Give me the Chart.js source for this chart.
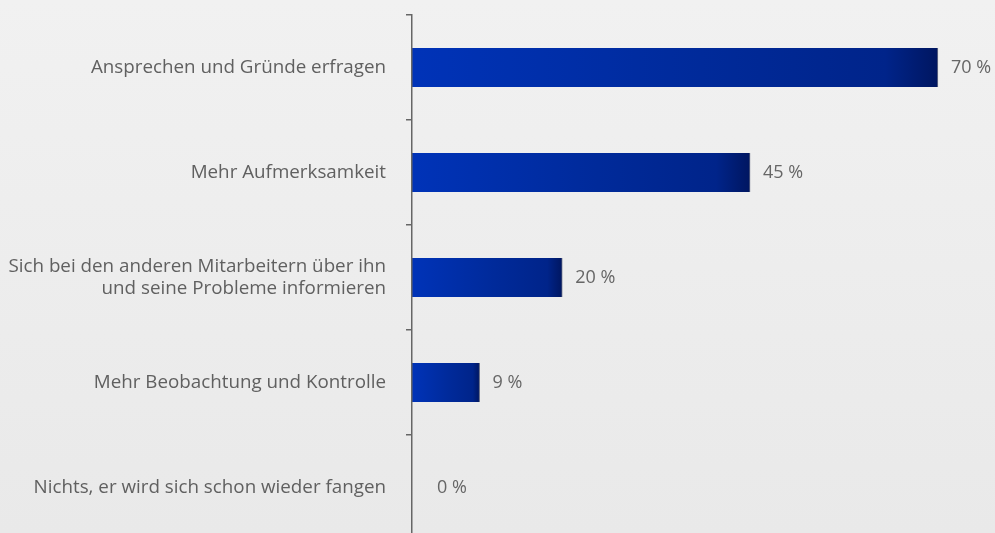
<!DOCTYPE html>
<html>
<head>
<meta charset="utf-8">
<script src="https://cdn.jsdelivr.net/npm/chart.js@4/dist/chart.umd.min.js"></script>
<style>
  html, body { margin: 0; padding: 0; overflow: hidden; }
  body { width: 995px; height: 533px; background: linear-gradient(#f1f1f1, #e9e9e9); }
  #wrap { width: 995px; height: 540px; position: relative; }
</style>
</head>
<body>
<div id="wrap"><canvas id="bars"></canvas></div>
<script>
const answers = [
  'Ansprechen und Gründe erfragen',
  'Mehr Aufmerksamkeit',
  ['Sich bei den anderen Mitarbeitern über ihn', 'und seine Probleme informieren'],
  'Mehr Beobachtung und Kontrolle',
  'Nichts, er wird sich schon wieder fangen'
]
const shares = [70, 45, 20, 9, 0]

const fontFamily = '"Open Sans", Lato, sans-serif'
const textFont = { family: fontFamily, size: 18.8, lineHeight: 1.18 }

// blue bar that darkens towards its end
function barFill(ctx) {
  const chart = ctx.chart
  if (ctx.dataIndex === undefined) return '#0033b8'
  if (shares[ctx.dataIndex] === 0) return 'rgba(0,0,0,0)'
  if (!chart.chartArea) return '#0033b8'
  const x = chart.scales.x
  const x0 = x.getPixelForValue(0)
  const x1 = x.getPixelForValue(shares[ctx.dataIndex])
  const g = chart.ctx.createLinearGradient(x0, 0, x1, 0)
  g.addColorStop(0, '#0033b8')
  g.addColorStop(0.55, '#002a9a')
  g.addColorStop(0.9, '#00248a')
  g.addColorStop(1, '#001660')
  return g
}

const valueLabels = {
  id: 'valueLabels',
  afterDatasetsDraw(chart) {
    const c = chart.ctx
    const meta = chart.getDatasetMeta(0)
    c.save()
    c.font = '18px ' + fontFamily
    c.fillStyle = '#666'
    c.textBaseline = 'middle'
    meta.data.forEach((bar, i) => {
      const end = Math.max(bar.x, chart.chartArea.left + 12)
      c.fillText(shares[i] + ' %', end + 13, bar.y)
    })
    c.restore()
  }
}

new Chart(document.getElementById('bars'), {
  type: 'bar',
  data: {
    labels: answers,
    datasets: [{
      data: shares,
      backgroundColor: barFill,
      borderColor: '#6a6f85',
      borderWidth: ctx => ({ top: 0, right: shares[ctx.dataIndex] > 0 ? 1 : 0, bottom: 0, left: 0 }),
      borderSkipped: 'start',
      barThickness: 39
    }]
  },
  options: {
    indexAxis: 'y',
    responsive: true,
    maintainAspectRatio: false,
    animation: false,
    layout: { padding: { top: 15, left: 0, right: 0, bottom: 0 } },
    plugins: { legend: { display: false }, tooltip: { enabled: false } },
    scales: {
      x: { display: false, min: 0, max: 77.6 },
      y: {
        afterFit(scale) {
          scale.width = 412
          scale.paddingTop = 0
          scale.paddingBottom = 0
        },
        border: { display: true, color: '#666', width: 1.5, z: 1 },
        grid: { offset: true, drawOnChartArea: false, tickLength: 6, color: '#666', lineWidth: 1.5 },
        ticks: { color: '#606060', font: textFont, padding: 20, crossAlign: 'near' }
      }
    }
  },
  plugins: [valueLabels]
})
</script>
</body>
</html>
